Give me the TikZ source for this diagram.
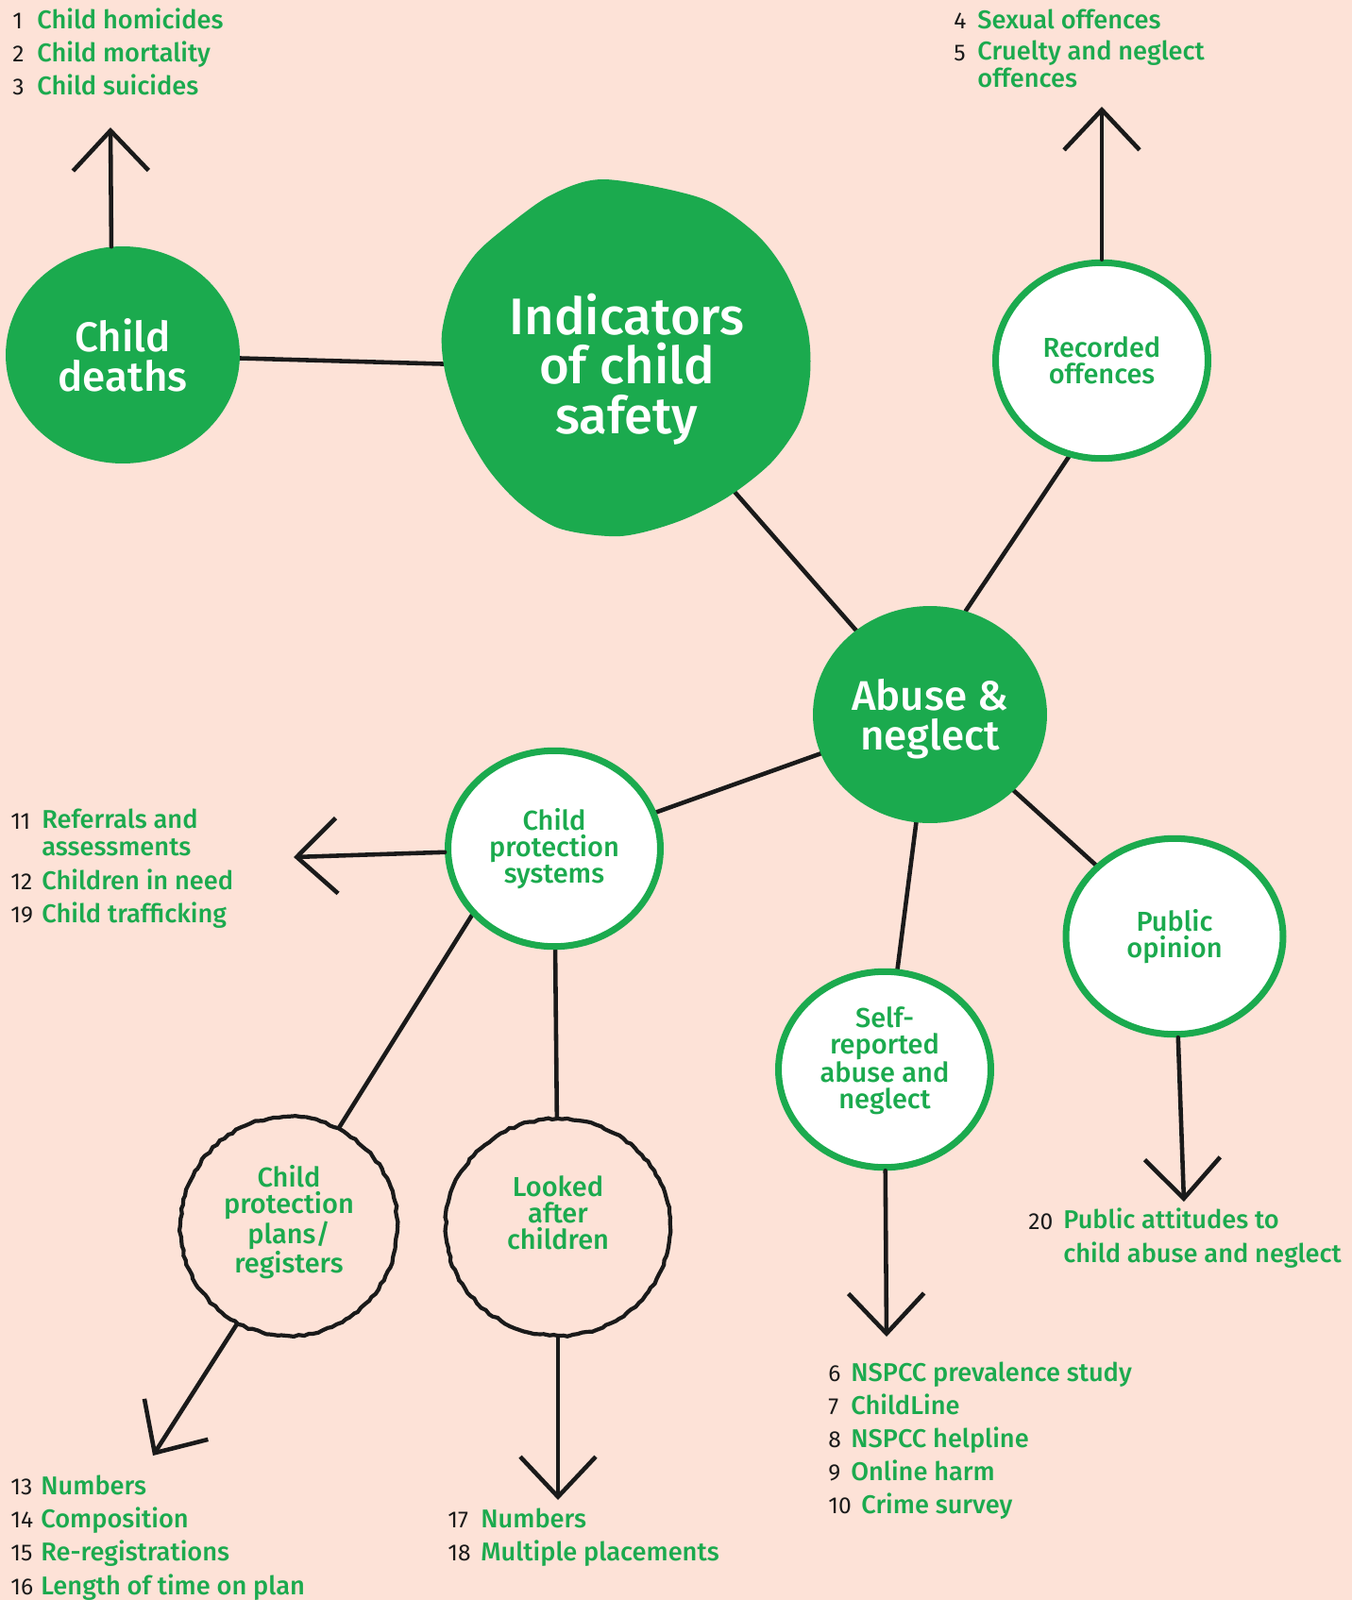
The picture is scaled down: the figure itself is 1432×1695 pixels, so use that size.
\documentclass[tikz,border=0pt]{standalone}
\usepackage{fontspec}
\setmainfont{Fira Sans}[BoldFont={Fira Sans Medium}]
\usepackage{xcolor}
\definecolor{nspccGreen}{HTML}{1BAA4E}
\definecolor{nspccPeach}{HTML}{FDE2D7}
\definecolor{nspccInk}{HTML}{1A1A1A}
\usepackage{tikz}
\usetikzlibrary{shapes.geometric,arrows.meta,positioning,backgrounds,decorations.pathmorphing}
\tikzset{
    bigtopic/.style={
        ellipse,
        fill=nspccGreen,
        text=white,
        align=center,
        inner sep=0pt,
        font=\bfseries\fontsize{25}{24}\selectfont
    },
    subtopic/.style={
        ellipse,
        draw=nspccGreen,
        line width=4pt,
        fill=white,
        text=nspccGreen,
        align=center,
        inner sep=0pt,
        minimum width=4.5cm,
        minimum height=4.15cm,
        font=\bfseries\fontsize{16.5}{16}\selectfont
    },
    sketchtopic/.style={
        ellipse,
        draw=nspccInk,
        line width=2.4pt,
        fill=nspccPeach,
        text=nspccGreen,
        align=center,
        inner sep=0pt,
        decorate,
        decoration={random steps, segment length=3pt, amplitude=0.6pt},
        font=\bfseries\fontsize{16.5}{16}\selectfont
    },
    link/.style={
        draw=nspccInk,
        line width=2.6pt,
        line cap=round
    },
    pointer/.style={
        link,
        -{Straight Barb[length=0.85cm, width=1.6cm]}
    },
    num/.style={
        anchor=base west,
        inner sep=0pt,
        text=nspccInk,
        font=\fontsize{14}{16}\selectfont
    },
    entry/.style={
        anchor=base west,
        inner sep=0pt,
        text=nspccGreen,
        align=left,
        font=\bfseries\fontsize{15.5}{16}\selectfont
    }
}

\begin{document}
\begin{tikzpicture}[x=0.02cm, y=-0.02cm]
    \useasboundingbox (0,0) rectangle (1432,1695);

    % main blob
    \fill[nspccGreen] plot[smooth cycle] coordinates {(583,207) (640,190) (743,210) (800,247) (833,290) (855,347) (858,397) (847,447) (817,490) (770,527) (717,553) (657,568) (593,560) (550,533) (517,497) (490,450) (472,397) (468,353) (480,307) (503,270) (533,243)};
    \node[bigtopic, fill=none, minimum width=7.2cm, minimum height=7cm, font=\bfseries\fontsize{31}{30}\selectfont]
        (ind) at (664,391) {Indicators\\of child\\safety};

    \node[bigtopic, minimum width=4.96cm, minimum height=4.6cm] (deaths) at (130,376) {Child\\deaths};
    \node[bigtopic, minimum width=4.96cm, minimum height=4.6cm, text depth=-0.08cm] (abuse) at (985,757) {Abuse \&\\neglect};

    \node[subtopic] (rec) at (1167,382) {Recorded\\offences};
    \node[subtopic] (cps) at (587,899) {Child\\protection\\systems};
    \node[subtopic, minimum width=4.6cm] (pub) at (1244,992) {Public\\opinion};
    \node[subtopic, text depth=0.5cm] (self) at (937,1133) {Self-\\reported\\abuse and\\neglect};
    \node[sketchtopic, minimum width=4.6cm, minimum height=4.64cm, text depth=0.3cm] (cpp) at (306,1299) {Child\\protection\\plans/\\registers};
    \node[sketchtopic, minimum width=4.76cm, minimum height=4.6cm, text depth=0.62cm] (lac) at (591,1300) {Looked\\after\\children};

    \coordinate (deathsTip) at (117,135);
    \coordinate (recTip) at (1167,113);
    \coordinate (cpsTip) at (311,908);
    \coordinate (selfTip) at (939,1416);
    \coordinate (pubTip) at (1254,1273);
    \coordinate (cppTip) at (162,1542);
    \coordinate (lacTip) at (591,1589);

    % lists
    \node[num] (n1) at (13,30) {1};
    \node[entry] (t1) at (39,30) {Child homicides};
    \node[num] (n2) at (13,65) {2};
    \node[entry] (t2) at (39,65) {Child mortality};
    \node[num] (n3) at (13,100) {3};
    \node[entry] (t3) at (39,100) {Child suicides};

    \node[num] (n4) at (1010,30) {4};
    \node[entry] (t4) at (1035,30) {Sexual offences};
    \node[num] (n5) at (1010,64) {5};
    \node[entry] (t5) at (1035,92) {Cruelty and neglect\\offences};

    \node[num] (n11) at (11,878) {11};
    \node[entry] (t11) at (44,906) {Referrals and\\assessments};
    \node[num] (n12) at (11,942) {12};
    \node[entry] (t12) at (44,942) {Children in need};
    \node[num] (n19) at (11,977) {19};
    \node[entry] (t19) at (44,977) {Child trafficking};

    \node[num] (n13) at (11,1583) {13};
    \node[entry] (t13) at (43,1583) {Numbers};
    \node[num] (n14) at (11,1618) {14};
    \node[entry] (t14) at (43,1618) {Composition};
    \node[num] (n15) at (11,1653) {15};
    \node[entry] (t15) at (43,1653) {Re-registrations};
    \node[num] (n16) at (11,1689) {16};
    \node[entry] (t16) at (43,1689) {Length of time on plan};

    \node[num] (n17) at (474,1618) {17};
    \node[entry] (t17) at (509,1618) {Numbers};
    \node[num] (n18) at (474,1653) {18};
    \node[entry] (t18) at (509,1653) {Multiple placements};

    \node[num] (n6) at (877,1463) {6};
    \node[entry] (t6) at (901,1463) {NSPCC prevalence study};
    \node[num] (n7) at (877,1498) {7};
    \node[entry] (t7) at (901,1498) {ChildLine};
    \node[num] (n8) at (877,1533) {8};
    \node[entry] (t8) at (901,1533) {NSPCC helpline};
    \node[num] (n9) at (877,1568) {9};
    \node[entry] (t9) at (901,1568) {Online harm};
    \node[num] (n10) at (877,1603) {10};
    \node[entry] (t10) at (912,1603) {Crime survey};

    \node[num] (n20) at (1089,1302) {20};
    \node[entry, font=\bfseries\fontsize{15.5}{20}\selectfont] (t20) at (1126,1337) {Public attitudes to\\child abuse and neglect};

    \begin{scope}[on background layer]
        \fill[nspccPeach] (0,0) rectangle (1432,1695);
        \draw[link] (deaths) -- (ind);
        \draw[link] (ind.center) -- (abuse.center);
        \draw[link] (abuse.71) -- (rec.251);
        \draw[link] (abuse.center) -- (cps.center);
        \draw[link] (abuse.center) -- (pub.center);
        \draw[link] (abuse.center) -- (self.center);
        \draw[link] (cps.219) -- (cpp.63);
        \draw[link] (cps.center) -- (lac.center);
    \end{scope}

    \draw[pointer] (deaths.96) -- (deathsTip);
    \draw[pointer] (rec) -- (recTip);
    \draw[pointer] (cps) -- (cpsTip);
    \draw[pointer] (self) -- (selfTip);
    \draw[pointer] (pub) -- (pubTip);
    \draw[pointer] (cpp.242) -- (cppTip);
    \draw[pointer] (lac) -- (lacTip);
\end{tikzpicture}
\end{document}
